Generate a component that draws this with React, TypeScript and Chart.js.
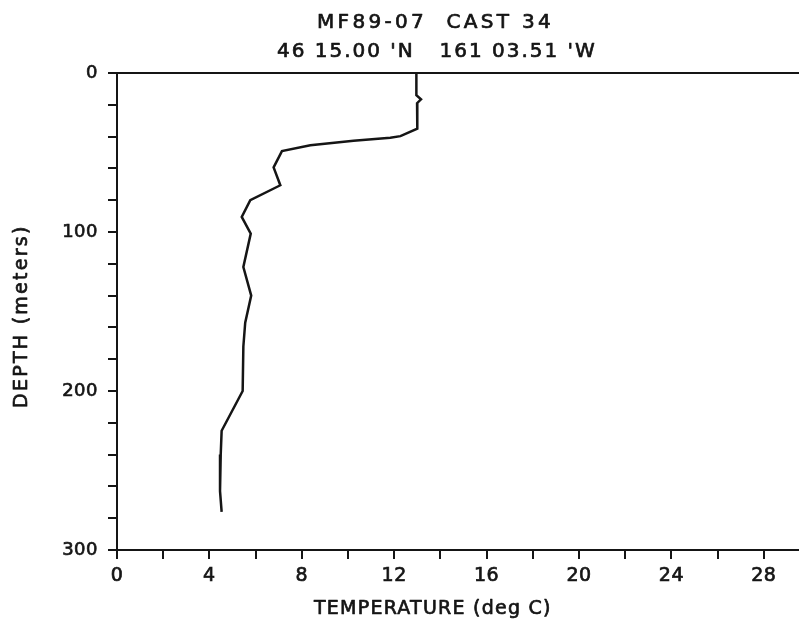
import React, { useEffect, useRef } from 'react';
import { Chart, registerables } from 'chart.js';

Chart.register(...registerables);

// ---- text ----
const TITLE_LINE_1 = 'MF89-07  CAST 34';
const TITLE_LINE_2 = "46 15.00 'N   161 03.51 'W";
const X_TITLE = 'TEMPERATURE (deg C)';
const Y_TITLE = 'DEPTH (meters)';

// ---- data (read from the profile) ----
const depthM = [0, 14, 16.6, 19, 35, 39.7, 40.7, 42.6, 45.4, 49.1, 59.4, 70.6, 80, 90.5, 101, 122, 140, 157, 172, 200, 225, 240, 263, 276];
const temperatureC = [12.96, 12.96, 13.16, 12.99, 13.0, 12.27, 11.83, 10.24, 8.37, 7.14, 6.78, 7.07, 5.77, 5.4, 5.79, 5.47, 5.81, 5.55, 5.47, 5.44, 4.53, 4.49, 4.46, 4.53];

// ---- axes ----
const xLimits = [0, 30];
const xTickStep = 2;
const xTickLabels = ['0', '4', '8', '12', '16', '20', '24', '28'];
const yLimits = [0, 300];
const yTickStep = 20;
const yTickLabels = ['0', '100', '200', '300'];

const FONT_FAMILY = '"DejaVu Sans", sans-serif';
const INK = '#151515';
const TEXT_STROKE = 0.7;

const CANVAS_W = 830;
const CANVAS_H = 619;

function fitText(ctx: CanvasRenderingContext2D, text: string, left: number, baseline: number, width: number) {
  ctx.letterSpacing = '0px';
  const m = ctx.measureText(text);
  const ink0 = m.actualBoundingBoxLeft + m.actualBoundingBoxRight;
  const sp = text.length > 1 ? (width - ink0) / (text.length - 1) : 0;
  ctx.letterSpacing = sp + 'px';
  ctx.textAlign = 'left';
  ctx.textBaseline = 'alphabetic';
  const x = left + m.actualBoundingBoxLeft;
  ctx.fillText(text, x, baseline);
  ctx.strokeText(text, x, baseline);
}

const textPlugin = {
  id: 'plotterText',
  beforeDraw(chart: any) {
    chart.ctx.letterSpacing = '0.5px';
  },
  afterDraw(chart: any) {
    const ctx: CanvasRenderingContext2D = chart.ctx;
    ctx.save();
    ctx.fillStyle = INK;
    ctx.strokeStyle = INK;
    ctx.lineWidth = TEXT_STROKE;
    ctx.lineJoin = 'round';
    ctx.font = `20px ${FONT_FAMILY}`;
    fitText(ctx, TITLE_LINE_1, 318, 28, 232);
    fitText(ctx, TITLE_LINE_2, 277, 57, 318);
    ctx.font = `19px ${FONT_FAMILY}`;
    fitText(ctx, X_TITLE, 313, 614, 236);
    ctx.translate(27, 407);
    ctx.rotate(-Math.PI / 2);
    fitText(ctx, Y_TITLE, 0, 0, 179);
    ctx.restore();
  },
};

export default function App() {
  const canvasRef = useRef<HTMLCanvasElement | null>(null);

  useEffect(() => {
    const canvas = canvasRef.current;
    if (!canvas) return;
    const points = depthM.map((d, i) => ({ x: temperatureC[i], y: d }));
    const chart = new Chart(canvas, {
      type: 'scatter',
      data: {
        datasets: [
          {
            data: points,
            showLine: true,
            borderColor: INK,
            borderWidth: 2.5,
            pointRadius: 0,
            tension: 0,
            fill: false,
          },
        ],
      },
      options: {
        responsive: false,
        animation: false,
        events: [],
        layout: { padding: { top: 73, right: CANVAS_W - 810, left: 0, bottom: 0 } },
        plugins: { legend: { display: false }, tooltip: { enabled: false }, title: { display: false } },
        scales: {
          x: {
            type: 'linear',
            position: 'bottom',
            min: xLimits[0],
            max: xLimits[1],
            afterFit: (s: any) => { s.height = CANVAS_H - 550; },
            ticks: {
              stepSize: xTickStep,
              autoSkip: false,
              maxRotation: 0,
              padding: 6,
              color: INK,
              textStrokeColor: INK,
              textStrokeWidth: TEXT_STROKE,
              font: { family: FONT_FAMILY, size: 19 },
              callback: (v: any) => (xTickLabels.includes(String(v)) ? String(v) : ''),
            },
            grid: { display: true, drawOnChartArea: false, drawTicks: true, tickLength: 9, color: INK, lineWidth: 2 },
            border: { display: true, color: INK, width: 2 },
          },
          xTop: {
            type: 'linear',
            position: 'top',
            min: xLimits[0],
            max: xLimits[1],
            afterFit: (s: any) => { s.height = 0; },
            ticks: { display: false },
            grid: { display: false },
            border: { display: true, color: INK, width: 2 },
          },
          y: {
            type: 'linear',
            position: 'left',
            reverse: true,
            min: yLimits[0],
            max: yLimits[1],
            afterFit: (s: any) => { s.width = 117; },
            ticks: {
              stepSize: yTickStep,
              autoSkip: false,
              padding: 10,
              color: INK,
              textStrokeColor: INK,
              textStrokeWidth: TEXT_STROKE,
              font: { family: FONT_FAMILY, size: 18 },
              callback: (v: any) => (yTickLabels.includes(String(v)) ? String(v) : ''),
            },
            grid: { display: true, drawOnChartArea: false, drawTicks: true, tickLength: 9, color: INK, lineWidth: 2 },
            border: { display: true, color: INK, width: 2 },
          },
        },
      },
      plugins: [textPlugin],
    });
    return () => chart.destroy();
  }, []);

  return (
    <div style={{ position: 'fixed', left: 0, top: 0, width: 799, height: 619, overflow: 'hidden', background: '#fff' }}>
      <canvas ref={canvasRef} width={CANVAS_W} height={CANVAS_H} style={{ width: CANVAS_W, height: CANVAS_H, display: 'block' }} />
    </div>
  );
}
